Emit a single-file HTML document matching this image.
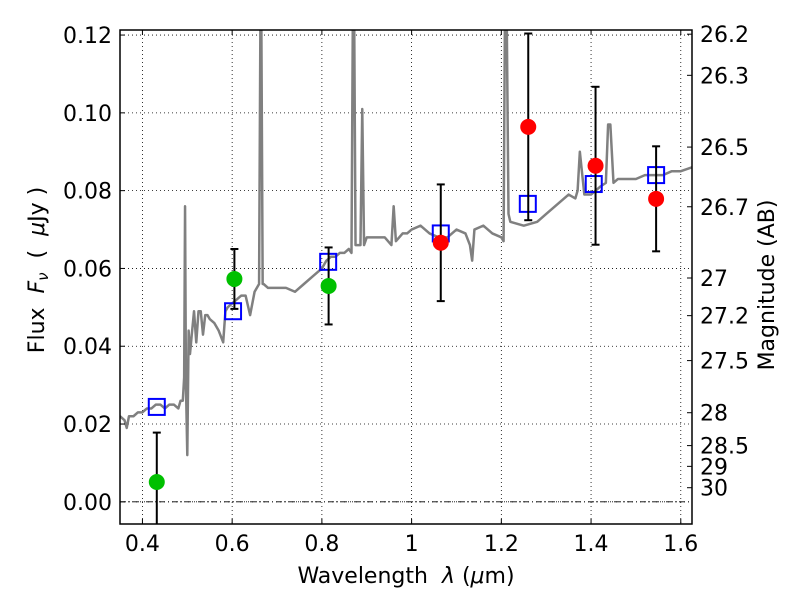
<!DOCTYPE html>
<html><head><meta charset="utf-8"><style>
body{margin:0;background:#fff}
svg text{font-family:"DejaVu Sans","Liberation Sans",sans-serif;fill:#000;white-space:pre}
</style></head><body>
<svg id="chart" width="800" height="600" xmlns="http://www.w3.org/2000/svg">
<rect width="800" height="600" fill="#fff"/>
<g id="grid"></g>
<g id="plot"></g>
<rect x="120" y="30" width="572" height="494" fill="none" stroke="#000" stroke-width="1.5"/>
<g id="axes"></g>
<text x="406" y="583" font-size="22" text-anchor="middle">Wavelength  <tspan font-style="italic">λ</tspan> (<tspan font-style="italic">μ</tspan>m)</text>
<text transform="translate(44,270) rotate(-90)" font-size="22" text-anchor="middle">Flux  <tspan font-style="italic">F</tspan><tspan font-style="italic" font-size="15" dy="4">ν</tspan><tspan dy="-4">  (  </tspan><tspan font-style="italic">μ</tspan>Jy )</text>
<text transform="translate(774,285) rotate(-90)" font-size="22" text-anchor="middle">Magnitude (AB)</text>
</svg>
<script>
const specWave=[0.35,0.36,0.365,0.37,0.38,0.39,0.40,0.41,0.42,0.43,0.44,0.45,0.46,0.47,0.48,0.485,0.49,0.493,0.495,0.497,0.50,0.503,0.506,0.51,0.515,0.52,0.525,0.53,0.535,0.54,0.545,0.55,0.56,0.57,0.58,0.585,0.59,0.60,0.61,0.62,0.63,0.64,0.65,0.655,0.66,0.663,0.665,0.668,0.67,0.68,0.70,0.72,0.74,0.76,0.78,0.79,0.80,0.81,0.82,0.83,0.84,0.85,0.86,0.866,0.869,0.872,0.875,0.878,0.882,0.886,0.89,0.894,0.90,0.92,0.94,0.955,0.96,0.965,0.98,0.99,1.00,1.02,1.04,1.06,1.08,1.10,1.12,1.13,1.135,1.14,1.16,1.18,1.20,1.205,1.208,1.212,1.216,1.22,1.25,1.28,1.30,1.33,1.35,1.365,1.37,1.375,1.385,1.40,1.42,1.433,1.438,1.443,1.45,1.46,1.48,1.50,1.52,1.54,1.56,1.58,1.60,1.625];
const specFlux=[0.022,0.021,0.019,0.022,0.022,0.023,0.023,0.024,0.024,0.025,0.025,0.024,0.025,0.025,0.024,0.026,0.026,0.032,0.076,0.030,0.012,0.044,0.038,0.043,0.049,0.041,0.049,0.049,0.043,0.048,0.048,0.047,0.046,0.044,0.041,0.049,0.050,0.051,0.052,0.053,0.053,0.048,0.054,0.055,0.056,0.125,0.125,0.056,0.056,0.055,0.055,0.055,0.054,0.056,0.058,0.059,0.060,0.062,0.063,0.063,0.064,0.064,0.065,0.064,0.125,0.125,0.066,0.066,0.066,0.066,0.101,0.066,0.068,0.068,0.068,0.066,0.076,0.067,0.069,0.069,0.070,0.071,0.069,0.068,0.068,0.070,0.069,0.066,0.062,0.070,0.071,0.069,0.068,0.067,0.125,0.125,0.074,0.072,0.071,0.072,0.074,0.077,0.079,0.078,0.080,0.090,0.079,0.079,0.081,0.082,0.097,0.097,0.082,0.083,0.083,0.083,0.084,0.084,0.084,0.085,0.085,0.086];
const boxWave=[0.432,0.602,0.814,1.065,1.259,1.406,1.545];
const boxFlux=[0.0244,0.049,0.0617,0.069,0.0766,0.0817,0.084];
const greenWave=[0.432,0.605,0.815];
const greenFlux=[0.0051,0.0573,0.0555];
const greenErr=[0.0127,0.0077,0.0099];
const redWave=[1.065,1.26,1.41,1.545];
const redFlux=[0.0666,0.0964,0.0864,0.0779];
const redErr=[0.015,0.024,0.0203,0.0135];
const xTicks=[0.4,0.6,0.8,1.0,1.2,1.4,1.6];
const xTickLabels=["0.4","0.6","0.8","1","1.2","1.4","1.6"];
const yTicks=[0,0.02,0.04,0.06,0.08,0.10,0.12];
const yTickLabels=["0.00","0.02","0.04","0.06","0.08","0.10","0.12"];
const magTicks=[26.2,26.3,26.5,26.7,27,27.2,27.5,28,28.5,29,30];
const magLabels=["26.2","26.3","26.5","26.7","27","27.2","27.5","28","28.5","29","30"];

const X0=120,X1=692,Y0=524,Y1=30,xmin=0.35,xmax=1.625,ymin=-0.0057,ymax=0.1213;
const sx=v=>X0+(v-xmin)/(xmax-xmin)*(X1-X0);
const sy=v=>Y0-(v-ymin)/(ymax-ymin)*(Y0-Y1);
const NS="http://www.w3.org/2000/svg";
function mk(parent,tag,attrs){const e=document.createElementNS(NS,tag);for(const k in attrs)e.setAttribute(k,attrs[k]);parent.appendChild(e);return e;}
const grid=document.getElementById('grid'),plot=document.getElementById('plot'),axes=document.getElementById('axes');

xTicks.forEach((t,i)=>{
  const g=mk(grid,'line',{x1:sx(t),x2:sx(t),y1:Y1,y2:Y0,stroke:'#000','stroke-width':0.8,'stroke-dasharray':'1,3'});
  
  
  mk(axes,'line',{x1:sx(t),x2:sx(t),y1:Y0,y2:Y0-5,stroke:'#000'});
  mk(axes,'line',{x1:sx(t),x2:sx(t),y1:Y1,y2:Y1+5,stroke:'#000'});
  const tx=mk(axes,'text',{x:sx(t),y:Y0+27,'font-size':22,'text-anchor':'middle'});
  tx.textContent=xTickLabels[i];
  
  
});
yTicks.forEach((t,i)=>{
  const g=mk(grid,'line',{x1:X0,x2:X1,y1:sy(t),y2:sy(t),stroke:'#000','stroke-width':0.8,'stroke-dasharray':'1,3'});
  
  
  mk(axes,'line',{x1:X0,x2:X0+5,y1:sy(t),y2:sy(t),stroke:'#000'});
  const tx=mk(axes,'text',{x:X0-8,y:sy(t)+8,'font-size':22,'text-anchor':'end'});
  tx.textContent=yTickLabels[i];
  
  
});
const zl=mk(grid,'line',{x1:X0,x2:X1,y1:sy(0),y2:sy(0),stroke:'#000','stroke-width':0.8,'stroke-dasharray':'6,3,1,3'});


magTicks.forEach((m,i)=>{
  const y=sy(Math.pow(10,(23.9-m)/2.5));
  mk(axes,'line',{x1:X1,x2:X1-5,y1:y,y2:y,stroke:'#000'});
  const tx=mk(axes,'text',{x:X1+8,y:y+8,'font-size':22,'text-anchor':'start'});
  tx.textContent=magLabels[i];
  
  
});

const cp=mk(document.getElementById('chart'),'clipPath',{id:'clip'});
mk(cp,'rect',{x:X0,y:Y1,width:X1-X0,height:Y0-Y1});
plot.setAttribute('clip-path','url(#clip)');

const sp=mk(plot,'polyline',{points:specWave.map((w,i)=>sx(w)+','+sy(specFlux[i])).join(' '),fill:'none',stroke:'#808080','stroke-width':2.5,'stroke-linejoin':'round'});



boxWave.forEach((w,i)=>{
  const r=mk(plot,'rect',{x:sx(w)-8,y:sy(boxFlux[i])-8,width:16,height:16,fill:'none',stroke:'#0000ff','stroke-width':2});
  
  
});
function pts(ws,fs,es,color,name){
  ws.forEach((w,i)=>{
    const x=sx(w),yt=sy(fs[i]+es[i]),yb=sy(fs[i]-es[i]);
    const e=mk(plot,'line',{x1:x,x2:x,y1:yt,y2:yb,stroke:'#000','stroke-width':2});
    
    
    mk(plot,'line',{x1:x-4,x2:x+4,y1:yt,y2:yt,stroke:'#000','stroke-width':2});
    mk(plot,'line',{x1:x-4,x2:x+4,y1:yb,y2:yb,stroke:'#000','stroke-width':2});
    const c=mk(plot,'circle',{cx:x,cy:sy(fs[i]),r:8,fill:color});
    
    
  });
}
pts(greenWave,greenFlux,greenErr,'#00c000','optical-flux-point');
pts(redWave,redFlux,redErr,'#ff0000','nir-flux-point');
</script>
</body></html>
